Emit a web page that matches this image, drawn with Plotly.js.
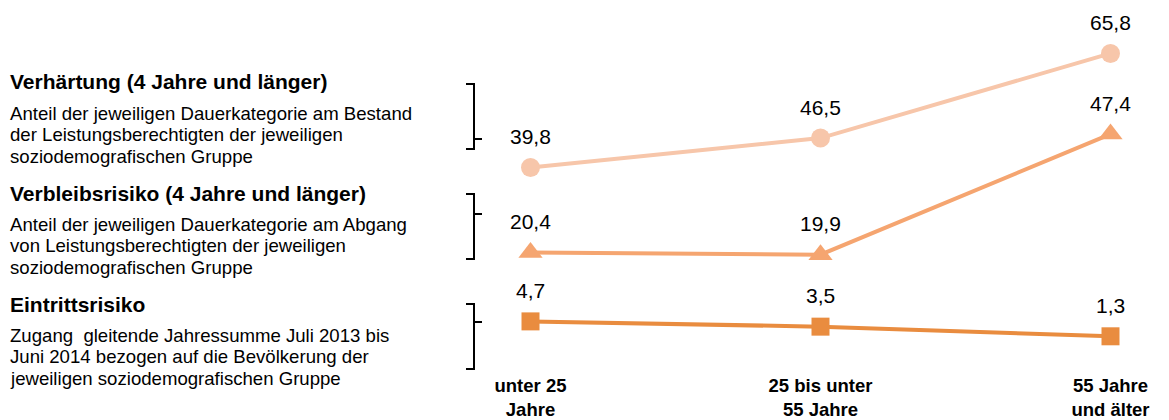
<!DOCTYPE html>
<html>
<head>
<meta charset="utf-8">
<script src="https://cdn.plot.ly/plotly-3.0.1.min.js"></script>
<style>html,body{margin:0;padding:0;background:#fff;}#chart{width:1169px;height:420px;}</style>
</head>
<body>
<div id="chart"></div>
<script>
// ---- Data ----
const categories = ['unter 25<br>Jahre', '25 bis unter<br>55 Jahre', '55 Jahre<br>und älter'];
const verhaertung = [39.8, 46.5, 65.8];
const verbleibsrisiko = [20.4, 19.9, 47.4];
const eintrittsrisiko = [4.7, 3.5, 1.3];

const groupTitles = [
  'Verhärtung (4 Jahre und länger)',
  'Verbleibsrisiko (4 Jahre und länger)',
  'Eintrittsrisiko'
];
const groupDescriptions = [
  ['Anteil der jeweiligen Dauerkategorie am Bestand', 'der Leistungsberechtigten der jeweiligen', 'soziodemografischen Gruppe'],
  ['Anteil der jeweiligen Dauerkategorie am Abgang', 'von Leistungsberechtigten der jeweiligen', 'soziodemografischen Gruppe'],
  ['Zugang  gleitende Jahressumme Juli 2013 bis', 'Juni 2014 bezogen auf die Bevölkerung der', 'jeweiligen soziodemografischen Gruppe']
];

// ---- Layout geometry ----
const W = 1169, H = 420;
const M = {l: 458, r: 44, t: 35, b: 78};
const PW = W - M.l - M.r, PH = H - M.t - M.b;
const px2x = px => (px - M.l) / PW;
const px2y = py => (H - M.b - py) / PH;
const FONT = 'Liberation Sans, Arial, sans-serif';

const seriesDefs = [
  {name: 'Verhärtung', y: verhaertung, color: '#F7C6AA', symbol: 'circle', size: 19},
  {name: 'Verbleibsrisiko', y: verbleibsrisiko, color: '#F5A570', symbol: 'triangle-up', size: 21},
  {name: 'Eintrittsrisiko', y: eintrittsrisiko, color: '#E98C3F', symbol: 'square', size: 18}
];

const traces = seriesDefs.map(s => ({
  type: 'scatter', mode: 'lines+markers', name: s.name,
  x: categories, y: s.y,
  line: {color: s.color, width: 4},
  marker: {color: s.color, symbol: s.symbol, size: s.size},
  cliponaxis: false, hoverinfo: 'skip'
}));

const annotations = [];
seriesDefs.forEach(s => {
  s.y.forEach((v, i) => {
    annotations.push({
      x: categories[i], y: v, xref: 'x', yref: 'y',
      text: v.toFixed(1).replace('.', ','),
      showarrow: false, yshift: 31, xanchor: 'center', yanchor: 'middle',
      font: {family: FONT, size: 21, color: '#000'}
    });
  });
});

const titleY = [82, 193, 304];
const descY0 = [113, 224, 335];
const lineGap = 21.5;
groupTitles.forEach((t, g) => {
  annotations.push({
    x: px2x(8), y: px2y(titleY[g]), xref: 'paper', yref: 'paper',
    text: '<b>' + t + '</b>', showarrow: false, xanchor: 'left', yanchor: 'middle',
    font: {family: FONT, size: 21, color: '#000'}
  });
  groupDescriptions[g].forEach((line, k) => {
    annotations.push({
      x: px2x(8), y: px2y(descY0[g] + k * lineGap), xref: 'paper', yref: 'paper',
      text: line, showarrow: false, xanchor: 'left', yanchor: 'middle',
      font: {family: FONT, size: 18.6, color: '#000'}
    });
  });
});

// brackets
const brackets = [
  {top: 84, bottom: 149, tick: 139},
  {top: 194, bottom: 259, tick: 214},
  {top: 304, bottom: 369, tick: 322}
];
const shapes = brackets.map(b => {
  const xl = px2x(466), xv = px2x(474), xt = px2x(482);
  return {
    type: 'path', xref: 'paper', yref: 'paper',
    path: `M ${xl},${px2y(b.top)} L ${xv},${px2y(b.top)} L ${xv},${px2y(b.bottom)} L ${xl},${px2y(b.bottom)} M ${xv},${px2y(b.tick)} L ${xt},${px2y(b.tick)}`,
    line: {color: '#000', width: 2}
  };
});

const layout = {
  width: W, height: H,
  margin: M,
  paper_bgcolor: '#fff', plot_bgcolor: '#fff',
  showlegend: false,
  xaxis: {
    type: 'category', range: [-0.25, 2.05],
    showgrid: false, zeroline: false, showline: false, ticks: '',
    ticklabelstandoff: 30,
    tickfont: {family: 'Liberation Sans Narrow, Arial Narrow, sans-serif', size: 18.5, color: '#000', weight: 'bold'}
  },
  yaxis: {
    range: [0, 70], visible: false, showgrid: false, zeroline: false
  },
  annotations: annotations,
  shapes: shapes
};

Plotly.newPlot('chart', traces, layout, {displayModeBar: false, staticPlot: true});
</script>
</body>
</html>
